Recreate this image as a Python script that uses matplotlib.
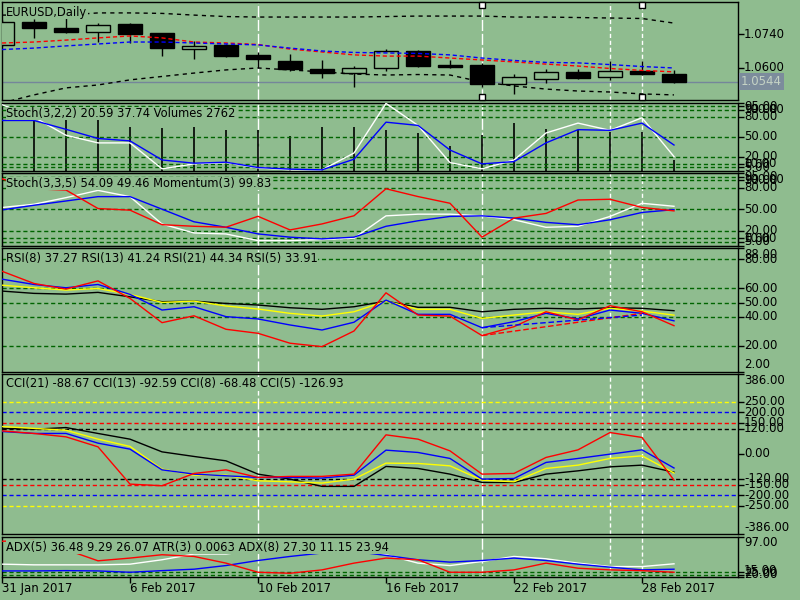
import matplotlib
matplotlib.use("Agg")
import matplotlib.pyplot as plt
from matplotlib.transforms import blended_transform_factory

plt.rcParams['font.family'] = ['DejaVu Sans']
plt.rcParams['font.size'] = 8

BG = '#8FBC8F'
LEVEL = '#006400'

# x axis
date_labels = ['31 Jan 2017', '6 Feb 2017', '10 Feb 2017', '16 Feb 2017', '22 Feb 2017', '28 Feb 2017']
date_bars = [0, 4, 8, 12, 16, 20]

# EURUSD daily candles
opens = [1.0695, 1.0789, 1.0765, 1.0748, 1.0781, 1.0744, 1.0678, 1.0695, 1.0654, 1.0629, 1.0596,
         1.0579, 1.0600, 1.0670, 1.0612, 1.0612, 1.0534, 1.0555, 1.0584, 1.0563, 1.0588, 1.0575]
highs = [1.0797, 1.0802, 1.0818, 1.0785, 1.0785, 1.0744, 1.0711, 1.0697, 1.0666, 1.0658, 1.0633,
         1.0608, 1.0678, 1.0674, 1.0633, 1.0621, 1.0575, 1.0596, 1.0596, 1.0629, 1.0629, 1.0592]
lows = [1.0690, 1.0724, 1.0746, 1.0707, 1.0703, 1.0649, 1.0637, 1.0645, 1.0600, 1.0588, 1.0559,
        1.0522, 1.0588, 1.0604, 1.0600, 1.0522, 1.0493, 1.0538, 1.0555, 1.0551, 1.0573, 1.0538]
closes = [1.0789, 1.0765, 1.0748, 1.0777, 1.0740, 1.0682, 1.0691, 1.0649, 1.0637, 1.0596, 1.0579,
          1.0600, 1.0670, 1.0608, 1.0604, 1.0534, 1.0563, 1.0584, 1.0559, 1.0588, 1.0575, 1.0544]
bars = list(range(len(closes)))

upper_env = [1.0818, 1.0818, 1.0818, 1.0827, 1.0827, 1.0825, 1.0818, 1.0812, 1.0810, 1.0810, 1.0810,
             1.0810, 1.0812, 1.0814, 1.0814, 1.0814, 1.0810, 1.0810, 1.0808, 1.0806, 1.0804, 1.0785]
lower_env = [1.0456, 1.0489, 1.0518, 1.0530, 1.0551, 1.0565, 1.0579, 1.0592, 1.0600, 1.0592, 1.0584,
             1.0575, 1.0571, 1.0573, 1.0571, 1.0542, 1.0526, 1.0513, 1.0505, 1.0501, 1.0493, 1.0489]
ma_red = [1.0703, 1.0707, 1.0715, 1.0724, 1.0732, 1.0724, 1.0707, 1.0703, 1.0697, 1.0678, 1.0666,
          1.0654, 1.0649, 1.0649, 1.0641, 1.0633, 1.0625, 1.0616, 1.0608, 1.0598, 1.0590, 1.0584]
ma_blue = [1.0676, 1.0682, 1.0691, 1.0699, 1.0707, 1.0707, 1.0703, 1.0699, 1.0695, 1.0682, 1.0670,
           1.0664, 1.0662, 1.0660, 1.0654, 1.0641, 1.0631, 1.0623, 1.0621, 1.0614, 1.0606, 1.0600]
last_price = 1.0544

# Stoch(3,2,2) + Volumes
stoch1_main = [97.5, 79.0, 52.2, 40.9, 40.9, 2.5, 9.8, 11.7, 3.9, 1.0, 1.0, 25.9, 99.4, 66.8, 11.7,
               2.5, 15.6, 55.6, 70.2, 59.5, 78.1, 20.59]
stoch1_signal = [74.1, 74.1, 61.0, 47.4, 43.9, 15.6, 10.8, 12.3, 4.4, 2.0, 1.0, 16.7, 71.6, 66.8, 30.3,
                 9.8, 13.2, 40.9, 60.5, 59.5, 70.2, 37.74]
volumes = [12000, 12800, 12800, 13300, 11050, 10800, 11050, 10300, 10300, 8790, 11050, 11050, 10300,
           9540, 6280, 9040, 12050, 10550, 10300, 9790, 9790, 2762]

# Stoch(3,3,5) + Momentum(3)
stoch2_main = [52.4, 56.9, 66.0, 76.0, 67.4, 29.6, 17.3, 15.9, 6.8, 6.8, 8.2, 10.1, 40.9, 43.2, 43.2,
               40.9, 35.5, 25.1, 26.5, 40.1, 58.2, 54.09]
stoch2_signal = [49.1, 55.5, 61.4, 67.4, 67.4, 50.1, 32.7, 25.1, 16.0, 11.5, 9.1, 11.5, 26.5, 34.1, 40.1,
                 40.9, 37.8, 31.9, 28.6, 35.5, 45.6, 49.46]
momentum = [101.60, 101.05, 100.98, 99.96, 99.87, 99.07, 98.98, 98.93, 99.53, 98.78, 99.11, 99.56,
            101.05, 100.62, 100.25, 98.38, 99.43, 99.69, 100.43, 100.47, 100.02, 99.83]

# RSI
rsi5 = [71.8, 63.3, 59.4, 65.1, 52.9, 36.0, 40.8, 31.4, 28.6, 21.7, 19.3, 30.2, 56.8, 41.3, 40.6,
        27.0, 33.2, 43.6, 37.9, 47.8, 43.6, 33.91]
rsi8 = [66.3, 62.6, 60.3, 62.6, 55.7, 44.8, 47.1, 40.2, 38.6, 34.4, 30.9, 36.3, 51.7, 41.8, 41.8,
        32.5, 36.7, 42.5, 38.6, 44.8, 42.5, 37.27]
rsi13 = [62.1, 60.3, 58.7, 59.8, 55.7, 50.1, 51.0, 47.6, 45.5, 42.5, 40.6, 43.6, 51.0, 45.3, 45.3,
         39.0, 41.3, 43.6, 41.8, 46.0, 44.1, 41.24]
rsi21 = [58.0, 56.4, 55.9, 57.1, 54.0, 50.6, 51.0, 49.4, 48.3, 46.4, 45.3, 47.1, 51.0, 46.7, 46.7,
         43.6, 45.3, 46.0, 45.5, 46.4, 46.0, 44.34]
trend_bars = [15, 20]
trend_red = [27.0, 42.5]
trend_blue = [32.5, 41.3]

# CCI
cci5 = [110, 97.6, 81.3, 33.2, -146, -154, -94.7, -77.4, -114, -109, -109, -98, 90.9, 70.2, 13.9,
        -98, -94.7, -17.8, 18.8, 102, 78.4, -126.93]
cci8 = [107, 97.6, 97.6, 51, 22.1, -77.4, -98, -106, -114, -114, -117, -103, 17.3, 6.2, -22.6,
        -122, -119, -41.8, -22.6, -1.9, 18.8, -68.48]
cci13 = [131, 122, 113, 70.2, 35.1, -74, -103, -103, -130, -135, -141, -122, -45.2, -46.6, -58.2,
         -127, -135, -70.7, -54.8, -22.6, -10.1, -92.59]
cci21 = [122, 118, 126, 97.6, 70.2, 9.1, -13, -34.1, -98, -122, -157, -157, -61, -70.7, -98,
         -138, -138, -98, -82.2, -63, -54.8, -88.67]

# ADX / ATR
adx_red = [87.4, 88.8, 70.4, 47.8, 53.3, 60.1, 56.6, 43.1, 24.6, 22.6, 29.4, 43.1, 53.3, 49.9, 24.6,
           24.6, 29.4, 43.1, 32.8, 29.4, 27.9, 24.6]
adx_blue = [27.3, 27.3, 27.9, 27.3, 24.6, 27.9, 30.8, 38.2, 48.4, 56.6, 63.6, 66.9, 58.7, 49.9, 45.1,
            48.4, 53.3, 48.4, 41.0, 34.9, 29.4, 30.8]
adx_white = [41.0, 39.6, 39.6, 39.6, 41.0, 49.9, 61.5, 61.5, 70.4, 74.5, 74.5, 70.4, 60.1, 43.1, 38.2,
             46.4, 56.6, 51.9, 43.1, 36.1, 36.1, 41.7]

fig = plt.figure(figsize=(8, 6), dpi=100, facecolor=BG)


def panel(top, bottom):
    ax = fig.add_axes([2 / 800, 1 - bottom / 600, 736 / 800, (bottom - top) / 600])
    ax.set_facecolor(BG)
    ax.set_xlim(0, 23)
    ax.set_xticks([])
    for s in ax.spines.values():
        s.set_color('black')
        s.set_linewidth(1)
    ax.axvline(8, color='white', lw=1, ls=(0, (8, 2)), zorder=1)
    ax.axvline(15, color='white', lw=1, ls=(0, (8, 2)), zorder=1)
    ax.axvline(19, color='white', lw=1, ls=(0, (3, 2)), zorder=1)
    ax.axvline(20, color='white', lw=1, ls=(0, (3, 2)), zorder=1)
    return ax


def right_scale(ax, ticks, fmt='%.2f'):
    lo, hi = ax.get_ylim()
    ax.yaxis.tick_right()
    ax.set_yticks(ticks)
    ax.set_yticklabels([])
    ax.set_ylim(lo, hi)
    ax.tick_params(axis='y', direction='out', length=4, width=1, color='black')
    tr = blended_transform_factory(ax.transAxes, ax.transData)
    for t in ticks:
        va = 'center'
        if t == hi:
            va = 'top'
        elif t == lo:
            va = 'bottom'
        ax.text(1 + 6 / 736, t, fmt % t, transform=tr, ha='left', va=va, fontsize=8.5, clip_on=False)


def title(ax, text, height):
    ax.text(4 / 736, 1 - 10.5 / height, text, transform=ax.transAxes, ha='left', va='center',
            fontsize=8.3, zorder=10, bbox=dict(facecolor=BG, edgecolor='none', pad=0.3))


def levels(ax, vals, colors=None):
    for i, v in enumerate(vals):
        c = LEVEL if colors is None else colors[i]
        ax.axhline(v, color=c, lw=1, ls=(0, (3, 2)), zorder=1)


# ---- main price panel
ax = panel(2, 100)
ax.set_ylim(1.0468, 1.0872)
for i in bars:
    o, h, l, c = opens[i], highs[i], lows[i], closes[i]
    ax.vlines(i, l, h, color='black', lw=1, zorder=2)
    fc = BG if c > o else 'black'
    ax.bar(i, abs(c - o), bottom=min(o, c), width=0.72, color=fc, edgecolor='black', lw=1, zorder=3)
ax.axhline(last_price, color='#75869A', lw=1, zorder=1)
ax.plot(bars, upper_env, color='black', lw=1, ls=(0, (3, 3)), zorder=4)
ax.plot(bars, lower_env, color='black', lw=1, ls=(0, (3, 3)), zorder=4)
ax.plot(bars, ma_red, color='red', lw=1, ls=(0, (3, 2)), zorder=4)
ax.plot(bars, ma_blue, color='blue', lw=1, ls=(0, (3, 2)), zorder=4)
tr = blended_transform_factory(ax.transData, ax.transAxes)
ax.plot([15, 15, 20, 20], [1 - 3 / 98, 3 / 98, 1 - 3 / 98, 3 / 98], ls='none', marker='s', ms=4,
        mfc='white', mec='black', mew=1, transform=tr, clip_on=False, zorder=6)
right_scale(ax, [1.0740, 1.0600], fmt='%.4f')
ax.text(1 + 3 / 736, last_price, '1.0544', transform=blended_transform_factory(ax.transAxes, ax.transData),
        ha='left', va='center', fontsize=8.5, color='#C5D3C5', clip_on=False,
        bbox=dict(facecolor='#7C8C9C', edgecolor='none', pad=1.6))
title(ax, 'EURUSD,Daily', 98)

# ---- Stoch(3,2,2) + volumes
ax_v = panel(103, 170.5)
ax_v.set_ylim(0, 17000)
ax_v.set_yticks([])
ax_v.vlines(bars, 0, volumes, color='black', lw=1.2, zorder=2)
ax = fig.add_axes(ax_v.get_position())
ax.patch.set_visible(False)
ax.set_xlim(0, 23)
ax.set_xticks([])
ax.set_ylim(0, 100)
for s in ax.spines.values():
    s.set_visible(False)
levels(ax, [95, 90, 80, 50, 20, 10, 5])
ax.plot(bars, stoch1_main, color='white', lw=1, zorder=4)
ax.plot(bars, stoch1_signal, color='blue', lw=1, zorder=4)
right_scale(ax, [100, 95, 90, 80, 50, 20, 10, 5, 0])
title(ax, 'Stoch(3,2,2) 20.59 37.74 Volumes 2762', 67.5)

# ---- Stoch(3,3,5) + momentum
ax = panel(173, 245.5)
ax.set_ylim(0, 100)
levels(ax, [95, 90, 80, 50, 20, 10, 5])
ax.plot(bars, stoch2_main, color='white', lw=1, zorder=4)
ax.plot(bars, stoch2_signal, color='blue', lw=1, zorder=4)
ax_m = ax.twinx()
ax_m.set_ylim(97.92, 101.92)
ax_m.set_yticks([])
ax_m.plot(bars, momentum, color='red', lw=1, zorder=3)
right_scale(ax, [100, 95, 90, 80, 50, 20, 10, 5, 0])
title(ax_m, 'Stoch(3,3,5) 54.09 49.46 Momentum(3) 99.83', 72.5)

# ---- RSI
ax = panel(248, 371.5)
ax.set_ylim(2, 88)
levels(ax, [80, 60, 50, 40, 20])
ax.plot(bars, rsi21, color='black', lw=1, zorder=3)
ax.plot(bars, rsi13, color='yellow', lw=1, zorder=3)
ax.plot(bars, rsi8, color='blue', lw=1, zorder=3)
ax.plot(bars, rsi5, color='red', lw=1, zorder=3)
ax.plot(trend_bars, trend_red, color='red', lw=1, ls=(0, (4, 2)), zorder=3)
ax.plot(trend_bars, trend_blue, color='blue', lw=1, ls=(0, (4, 2)), zorder=3)
right_scale(ax, [88, 80, 60, 50, 40, 20, 2])
title(ax, 'RSI(8) 37.27 RSI(13) 41.24 RSI(21) 44.34 RSI(5) 33.91', 123.5)

# ---- CCI
ax = panel(373.5, 534)
ax.set_ylim(-386, 386)
levels(ax, [250, 200, 150, 120, -120, -150, -200, -250],
       ['yellow', 'blue', 'red', 'black', 'black', 'red', 'blue', 'yellow'])
ax.plot(bars, cci21, color='black', lw=1, zorder=3)
ax.plot(bars, cci13, color='yellow', lw=1, zorder=3)
ax.plot(bars, cci8, color='blue', lw=1, zorder=3)
ax.plot(bars, cci5, color='red', lw=1, zorder=3)
right_scale(ax, [386, 250, 200, 150, 120, 0, -120, -150, -200, -250, -386])
title(ax, 'CCI(21) -88.67 CCI(13) -92.59 CCI(8) -68.48 CCI(5) -126.93', 160.5)

# ---- ADX / ATR
ax = panel(536.5, 577)
ax.set_ylim(15, 97)
levels(ax, [25, 20])
ax.plot(bars, adx_white, color='white', lw=1, zorder=3)
ax.plot(bars, adx_blue, color='blue', lw=1, zorder=3)
ax.plot(bars, adx_red, color='red', lw=1, zorder=3)
right_scale(ax, [97, 25, 20, 15])
title(ax, 'ADX(5) 36.48 9.29 26.07 ATR(3) 0.0063 ADX(8) 27.30 11.15 23.94', 40.5)
ax.set_xticks(date_bars)
ax.set_xticklabels([])
ax.tick_params(axis='x', direction='out', length=4, width=1, color='black')
trx = blended_transform_factory(ax.transData, ax.transAxes)
for b, lab in zip(date_bars, date_labels):
    ax.text(b, -5 / 40.5, lab, transform=trx, ha='left', va='top', fontsize=8.5, clip_on=False)

fig.savefig('out.png', dpi=100, facecolor=BG)
